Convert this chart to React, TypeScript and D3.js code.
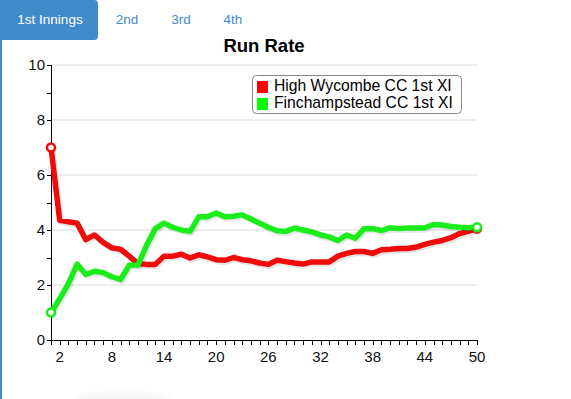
import React from 'react';
import * as d3 from 'd3';

const tabs = ['1st Innings', '2nd', '3rd', '4th'];
const teams = ['High Wycombe CC 1st XI', 'Finchampstead CC 1st XI'];
const colors = ['#ff0000', '#00ff00'];
const lineColors = ['#f00a0a', '#1aee1a'];

const overs = d3.range(1, 51);
const highWycombe = [
  7.0, 4.35, 4.3, 4.25, 3.65, 3.82, 3.55, 3.35, 3.3, 3.05,
  2.78, 2.75, 2.75, 3.05, 3.05, 3.12, 2.98, 3.1, 3.02, 2.92,
  2.9, 3.0, 2.92, 2.88, 2.8, 2.75, 2.9, 2.85, 2.8, 2.76,
  2.84, 2.84, 2.84, 3.05, 3.15, 3.22, 3.22, 3.15, 3.28, 3.3,
  3.33, 3.33, 3.38, 3.48, 3.56, 3.62, 3.72, 3.87, 3.95, 4.05,
];
const finchampstead = [
  1.0, 1.5, 2.05, 2.76, 2.38, 2.5, 2.45, 2.3, 2.2, 2.72,
  2.73, 3.45, 4.05, 4.25, 4.1, 4.0, 3.95, 4.48, 4.48, 4.62,
  4.48, 4.5, 4.55, 4.4, 4.25, 4.1, 3.97, 3.95, 4.07, 4.0,
  3.93, 3.82, 3.75, 3.62, 3.82, 3.7, 4.05, 4.05, 3.98, 4.08,
  4.05, 4.07, 4.07, 4.08, 4.2, 4.18, 4.13, 4.1, 4.08, 4.1,
];
const series = [highWycombe, finchampstead];
const xTickLabels = [2, 8, 14, 20, 26, 32, 38, 44, 50];
const yTickLabels = [0, 2, 4, 6, 8, 10];
const yMinor = d3.range(0, 11);

const width = 571;
const height = 399;
const font = 'Arial, "Liberation Sans", sans-serif';

export default function App() {
  const x = d3.scaleLinear().domain([1, 50]).range([51, 477]);
  const y = d3.scaleLinear().domain([0, 10]).range([340, 65]);
  const line = d3.line<number>()
    .x((_, i) => x(overs[i]))
    .y(d => y(d));

  return (
    <div style={{ position: 'fixed', left: 0, top: 0, width, height, background: '#fff' }}>
      <svg width={width} height={height} style={{ display: 'block', fontFamily: font }}>
        <defs>
          <filter id="soft" x="-50%" y="-200%" width="200%" height="500%">
            <feGaussianBlur stdDeviation="4" />
          </filter>
        </defs>

        {/* left border of tab panel */}
        <rect x={0} y={0} width={2} height={height} fill="#428bca" />

        {/* faint shadow at the bottom */}
        <ellipse cx={122} cy={400} rx={48} ry={4} fill="rgba(0,0,0,0.07)" filter="url(#soft)" />

        {/* tabs */}
        <path d="M0,0 H94 Q98,0 98,4 V36 Q98,40 94,40 H0 Z" fill="#428bca" />
        {tabs.map((t, i) => (
          <text key={t} x={[50, 127, 181, 233][i]} y={24} textAnchor="middle"
            fontSize={13.5} fill={i === 0 ? '#fff' : '#428bca'}>{t}</text>
        ))}

        {/* title */}
        <text x={264} y={52} textAnchor="middle" fontSize={18.5} fontWeight="bold" fill="#000">Run Rate</text>

        {/* grid */}
        {yTickLabels.filter(v => v > 0).map(v => (
          <line key={v} x1={51} x2={477} y1={y(v)} y2={y(v)} stroke="#dcdcdc" strokeWidth={1} />
        ))}

        {/* y axis */}
        <line x1={51.5} x2={51.5} y1={65} y2={340} stroke="#000" />
        {yMinor.map(v => (
          <line key={v} x1={47} x2={51} y1={Math.round(y(v)) + 0.5} y2={Math.round(y(v)) + 0.5} stroke="#000" />
        ))}
        {yTickLabels.map(v => (
          <text key={v} x={45} y={y(v) + 5} textAnchor="end" fontSize={15} fill="#111">{v}</text>
        ))}

        {/* x axis */}
        <line x1={51} x2={478} y1={340.5} y2={340.5} stroke="#000" />
        {overs.map(o => (
          <line key={o} x1={Math.round(x(o)) + 0.5} x2={Math.round(x(o)) + 0.5} y1={340} y2={345} stroke="#000" />
        ))}
        {xTickLabels.map(o => (
          <text key={o} x={x(o)} y={362} textAnchor="middle" fontSize={15} fill="#111">{o}</text>
        ))}

        {/* series */}
        {series.map((s, i) => (
          <g key={i}>
            <path d={line(s) || ''} fill="none" stroke="rgba(0,0,0,0.1)" strokeWidth={5.5}
              strokeLinejoin="round" strokeLinecap="round" transform="translate(1.5,2)" />
            <path d={line(s) || ''} fill="none" stroke={lineColors[i]} strokeWidth={5.5}
              strokeLinejoin="round" strokeLinecap="round" />
          </g>
        ))}
        {series.map((s, i) => (
          <g key={'m' + i}>
            {[0, s.length - 1].map(j => (
              <circle key={j} cx={x(overs[j])} cy={y(s[j])} r={4} fill="#fff"
                stroke={lineColors[i]} strokeWidth={2.5} />
            ))}
          </g>
        ))}

        {/* legend */}
        <rect x={252.5} y={75.5} width={209} height={38} rx={4} fill="#fff" stroke="#888" />
        {teams.map((t, i) => (
          <g key={t}>
            <rect x={257} y={81 + i * 17} width={11} height={12} fill={colors[i]} />
            <text x={274} y={91 + i * 17} fontSize={15.7} fill="#000">{t}</text>
          </g>
        ))}
      </svg>
    </div>
  );
}
